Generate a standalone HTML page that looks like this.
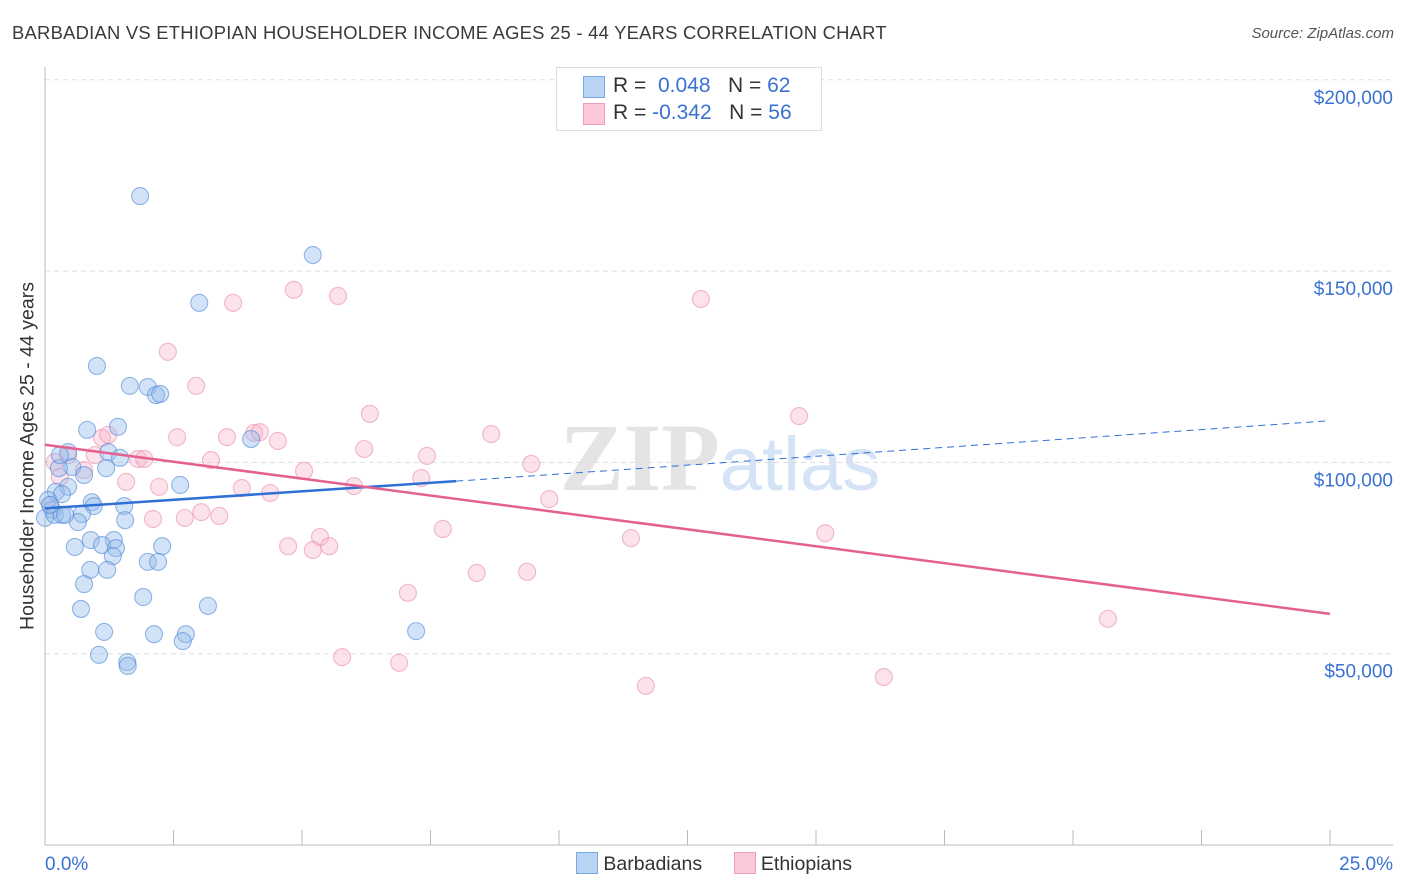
<!DOCTYPE html>
<html><head><meta charset="utf-8"><style>
body{margin:0;background:#fff;font-family:"Liberation Sans",sans-serif;}
#wrap{position:relative;width:1406px;height:892px;overflow:hidden;}
.t{position:absolute;white-space:nowrap;}
</style></head><body>
<div id="wrap">
<div class="t" style="left:12px;top:22px;font-size:18.4px;letter-spacing:0.25px;color:#3a3a3a;">BARBADIAN VS ETHIOPIAN HOUSEHOLDER INCOME AGES 25 - 44 YEARS CORRELATION CHART</div>
<div class="t" style="right:12px;top:25px;font-size:15px;color:#555;font-style:italic;">Source: ZipAtlas.com</div>
<svg id="svg" width="1406" height="892" style="position:absolute;left:0;top:0">
<text x="720" y="490" text-anchor="middle" font-size="96" font-family="Liberation Serif" fill="#e4e4e4"><tspan font-weight="bold">ZIP</tspan><tspan fill="#d4e3f5" font-family="Liberation Sans" font-size="76">atlas</tspan></text>
</svg>
<div style="position:absolute;left:556px;top:67px;width:264px;height:62px;border:1px solid #ddd;background:#fff;">
 <div style="position:absolute;left:26px;top:8px;width:20px;height:20px;background:#b9d3f5;border:1px solid #7ba7e3;"></div>
 <div class="t" style="left:56px;top:6px;font-size:21px;color:#333;">R = <span style="color:#3a72d1">&nbsp;0.048</span>&nbsp;&nbsp;&nbsp;N = <span style="color:#3a72d1">62</span></div>
 <div style="position:absolute;left:26px;top:35px;width:20px;height:20px;background:#fbc9d8;border:1px solid #ee9fb8;"></div>
 <div class="t" style="left:56px;top:33px;font-size:21px;color:#333;">R = <span style="color:#3a72d1">-0.342</span>&nbsp;&nbsp;&nbsp;N = <span style="color:#3a72d1">56</span></div>
</div>
<div class="t" style="left:28px;top:456px;font-size:19.5px;color:#333;transform:translate(-50%,-50%) rotate(-90deg);">Householder Income Ages 25 - 44 years</div>
<div style="position:absolute;left:576px;top:852px;font-size:19.5px;color:#333;">
 <span style="display:inline-block;width:20px;height:20px;background:#b9d3f5;border:1px solid #7ba7e3;vertical-align:-4px;"></span> Barbadians
 <span style="display:inline-block;width:20px;height:20px;background:#fbc9d8;border:1px solid #ee9fb8;vertical-align:-4px;margin-left:26px;"></span> Ethiopians
</div>
</div>
<script>
const xTickLabels=["0.0%","25.0%"];
const yTicks=[50000,100000,150000,200000];
const yTickLabels=["$50,000","$100,000","$150,000","$200,000"];
const blueX=[1.85,5.21,3.00,1.01,1.65,2.00,2.16,2.24,1.42,0.82,0.45,1.23,1.46,4.01,0.53,0.27,1.19,0.76,2.63,0.45,0.21,0.33,0.91,1.54,0.95,0.06,0.14,0.00,0.19,0.33,0.72,1.56,0.64,0.89,1.34,0.58,1.11,1.38,1.32,2.28,2.00,2.20,0.88,1.21,0.76,1.91,0.70,3.17,1.15,2.12,2.74,7.22,1.05,2.68,1.60,1.61,0.10,0.39,0.29];
const blueY=[169.6,154.2,141.7,125.2,120.0,119.7,117.6,117.9,109.3,108.5,102.7,102.7,101.2,106.1,98.8,98.5,98.5,96.7,94.1,93.6,92.3,91.7,89.6,88.6,88.6,90.2,87.6,85.5,86.3,86.3,86.5,84.9,84.4,79.7,79.7,77.9,78.4,77.6,75.5,78.1,74.0,74.0,71.9,71.9,68.2,64.8,61.7,62.5,55.7,55.1,55.1,55.9,49.7,53.3,47.8,46.8,88.9,86.3,101.9];
const pinkX=[2.39,3.66,4.84,5.70,12.76,2.94,6.32,14.67,2.57,3.54,4.07,4.18,4.53,1.11,1.23,8.68,6.21,7.43,0.45,0.97,1.81,1.93,3.23,9.46,5.04,7.32,0.76,0.29,1.58,2.22,3.83,4.38,6.01,9.81,3.04,2.72,3.39,2.10,7.74,5.35,11.40,15.18,4.73,5.21,5.53,8.40,9.38,7.06,20.68,5.78,6.89,11.69,16.32,0.19,0.10];
const pinkY=[128.9,141.7,145.1,143.5,142.7,120.0,112.7,112.1,106.6,106.6,107.7,107.9,105.6,106.4,107.2,107.4,103.5,101.7,101.9,101.9,100.9,100.9,100.6,99.6,97.8,95.9,98.0,96.2,94.9,93.6,93.3,92.0,93.8,90.4,87.0,85.5,86.0,85.2,82.6,80.5,80.2,81.5,78.1,77.1,78.1,71.1,71.4,65.9,59.1,49.1,47.6,41.6,43.9,100.1,88.9];
const blueTrend=[[0,88.0],[8.0,95.1],[25,110.9]];
const pinkTrend=[[0,104.6],[25,60.4]];

const X0=45,X1=1330,Y0=845,PX_PER_K=3.826;
function sx(p){return X0+(p/25)*(X1-X0);}
function sy(v){return Y0-v*PX_PER_K;}
const svg=document.getElementById('svg');
const NS='http://www.w3.org/2000/svg';
function mk(tag,attrs){const e=document.createElementNS(NS,tag);for(const k in attrs)e.setAttribute(k,attrs[k]);svg.appendChild(e);return e;}
yTicks.forEach((v,i)=>{
 const g=mk('line',{x1:45,x2:1393,y1:sy(v/1000),y2:sy(v/1000),stroke:'#ddd','stroke-dasharray':'5,4'});
 
 
 const t=mk('text',{x:1393,y:sy(v/1000)+24,'text-anchor':'end','font-size':19,fill:'#3a72d1'});
 t.textContent=yTickLabels[i];
 
 
});
const ya=mk('line',{x1:45,x2:45,y1:67,y2:845,stroke:'#bbb'});


const xa=mk('line',{x1:45,x2:1393,y1:845,y2:845,stroke:'#bbb'});


for(let i=0;i<=10;i++){
 const tk=mk('line',{x1:sx(i*2.5),x2:sx(i*2.5),y1:830,y2:845,stroke:'#bbb'});
 
 
}
const xl0=mk('text',{x:45,y:870,'font-size':19,fill:'#3a72d1'});xl0.textContent=xTickLabels[0];


const xl1=mk('text',{x:1393,y:870,'font-size':19,fill:'#3a72d1','text-anchor':'end'});xl1.textContent=xTickLabels[1];


function dots(xs,ys,fill,stroke,name){
 xs.forEach((x,i)=>{
  const c=mk('circle',{cx:sx(x),cy:sy(ys[i]),r:8.5,fill:fill,stroke:stroke,'stroke-width':1.1});
  
  
 });
}
dots(pinkX,pinkY,'rgba(246,180,202,0.38)','rgba(232,140,170,0.6)','ethiopian-point');
dots(blueX,blueY,'rgba(150,188,236,0.42)','rgba(80,135,215,0.6)','barbadian-point');
const bt1=mk('line',{x1:sx(blueTrend[0][0]),y1:sy(blueTrend[0][1]),x2:sx(blueTrend[1][0]),y2:sy(blueTrend[1][1]),stroke:'#2f6fd6','stroke-width':2.5});


const bt2=mk('line',{x1:sx(blueTrend[1][0]),y1:sy(blueTrend[1][1]),x2:sx(blueTrend[2][0]),y2:sy(blueTrend[2][1]),stroke:'#2f6fd6','stroke-width':1,'stroke-dasharray':'7,5'});


const pt=mk('line',{x1:sx(pinkTrend[0][0]),y1:sy(pinkTrend[0][1]),x2:sx(pinkTrend[1][0]),y2:sy(pinkTrend[1][1]),stroke:'#e4608e','stroke-width':2.5});


</script>
</body></html>
